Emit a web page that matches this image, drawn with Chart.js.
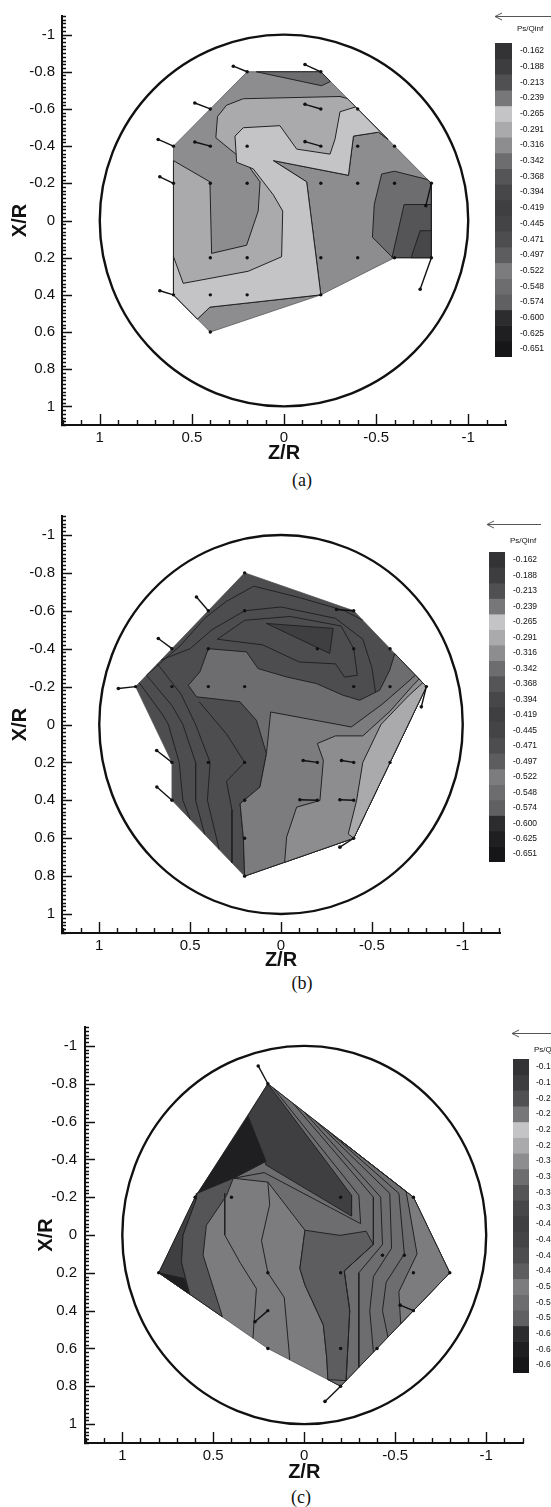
<!DOCTYPE html>
<html>
<head>
<meta charset="utf-8">
<script src="https://cdn.jsdelivr.net/npm/chart.js@4.4.1/dist/chart.umd.min.js"></script>
<style>
  html, body { margin: 0; padding: 0; background: #fff; }
  body { width: 551px; height: 1507px; overflow: hidden; position: relative; }
  canvas { position: absolute; }
  .cap { position: absolute; font-family: "Liberation Serif", "Times New Roman", serif; font-size: 18px; color: #111; transform: translate(-50%, -50%); }
  .ps { position: absolute; font-family: "Liberation Sans Narrow", "Liberation Sans", Arial, sans-serif; font-size: 8px; color: #111; white-space: nowrap; }
  svg.arrow { position: absolute; overflow: visible; }
</style>
</head>
<body>
<canvas id="plotA" width="551" height="465" style="left:0;top:0"></canvas>
<canvas id="plotB" width="551" height="472" style="left:0;top:500px"></canvas>
<canvas id="plotC" width="551" height="474" style="left:0;top:1010px"></canvas>
<canvas id="barA" width="56" height="340" style="left:495px;top:30px"></canvas>
<canvas id="barB" width="62" height="336" style="left:489px;top:539px"></canvas>
<canvas id="barC" width="38" height="338" style="left:513px;top:1047px"></canvas>

<div class="ps" style="left:517px;top:24px">Ps/Qinf</div>
<div class="ps" style="left:510px;top:536px">Ps/Qinf</div>
<div class="ps" style="left:534px;top:1045px">Ps/Qinf</div>

<svg class="arrow" style="left:494px;top:12px" width="60" height="9"><line x1="1" y1="4.5" x2="60" y2="4.5" stroke="#555" stroke-width="1"/><polyline points="8,1 1,4.5 8,8" fill="none" stroke="#555" stroke-width="1"/></svg>
<svg class="arrow" style="left:486px;top:520px" width="56" height="9"><line x1="1" y1="4.5" x2="55" y2="4.5" stroke="#555" stroke-width="1"/><polyline points="8,1 1,4.5 8,8" fill="none" stroke="#555" stroke-width="1"/></svg>
<svg class="arrow" style="left:511px;top:1029px" width="45" height="9"><line x1="1" y1="4.5" x2="45" y2="4.5" stroke="#555" stroke-width="1"/><polyline points="8,1 1,4.5 8,8" fill="none" stroke="#555" stroke-width="1"/></svg>

<div class="cap" style="left:302px;top:480px">(a)</div>
<div class="cap" style="left:302px;top:983px">(b)</div>
<div class="cap" style="left:301px;top:1497px">(c)</div>

<script>
// colour bar levels (Ps/Qinf)
const levels = [-0.162, -0.188, -0.213, -0.239, -0.265, -0.291, -0.316, -0.342, -0.368, -0.394,
                -0.419, -0.445, -0.471, -0.497, -0.522, -0.548, -0.574, -0.600, -0.625, -0.651];
const levelColors = ['#333335', '#3d3d40', '#505053', '#77777a', '#c4c4c6', '#aaaaac', '#8d8d90', '#6d6d70', '#555558', '#47474a',
                     '#3f3f42', '#444447', '#4d4d50', '#5d5d60', '#7c7c7f', '#6d6d70', '#606063', '#2c2c2e', '#1f1f21', '#161618'];

// axis ticks
const zTicks = [1, 0.5, 0, -0.5, -1];
const xTicks = [-1, -0.8, -0.6, -0.4, -0.2, 0, 0.2, 0.4, 0.6, 0.8, 1];
const wallRadius = 1;

// ---------- (a) ----------  points are [Z/R, X/R]
const hullA = [[0.2,-0.8],[-0.2,-0.8],[-0.8,-0.2],[-0.8,0.2],[-0.6,0.2],[-0.2,0.4],[0.4,0.6],[0.6,0.4],[0.6,-0.4]];
const hullLevelA = -0.316;
const regionsA = [
  {level: -0.291, pts: [[0.6,-0.322],[0.402,-0.208],[0.393,0.177],[0.203,0.133],[0.14,-0.051],[0.13,-0.208],[0.207,-0.313],[0.37,-0.445],[0.361,-0.559],[0.312,-0.62],[0.221,-0.655],[-0.304,-0.667],[-0.344,-0.656],[-0.563,-0.437],[-0.513,-0.475],[-0.377,-0.454],[-0.35,-0.243],[0.058,-0.322],[-0.123,-0.208],[-0.2,0.4],[0.402,0.466],[0.47,0.53],[0.6,0.4]]},
  {level: -0.265, pts: [[0.6,0.194],[0.547,0.338],[0.194,0.273],[0.013,0.195],[0.007,-0.051],[0.058,-0.138],[0.167,-0.278],[0.257,-0.313],[0.266,-0.454],[0.221,-0.499],[0.022,-0.51],[-0.069,-0.384],[-0.25,-0.357],[-0.277,-0.438],[-0.304,-0.585],[-0.389,-0.611],[-0.563,-0.437],[-0.513,-0.475],[-0.377,-0.454],[-0.35,-0.243],[0.058,-0.322],[-0.123,-0.208],[-0.2,0.4],[0.402,0.466],[0.47,0.53],[0.6,0.4]]},
  {level: -0.342, pts: [[0.15,-0.8],[-0.2,-0.8],[-0.252,-0.748],[-0.204,-0.725]]},
  {level: -0.342, pts: [[-0.53,-0.25],[-0.6,-0.265],[-0.78,-0.22],[-0.8,-0.2],[-0.8,0.2],[-0.59,0.2],[-0.48,0.09],[-0.49,-0.086]]},
  {level: -0.368, pts: [[-0.652,-0.086],[-0.8,-0.086],[-0.8,0.2],[-0.586,0.2]]},
  {level: -0.394, pts: [[-0.739,0.055],[-0.8,0.055],[-0.8,0.2],[-0.69,0.2]]}
];
const linesA = [];
const probesA = [[0.2,-0.8],[-0.2,-0.8],[0.4,-0.6],[-0.2,-0.6],[-0.4,-0.6],[0.6,-0.4],[0.4,-0.4],[0.2,-0.4],[-0.2,-0.4],[-0.4,-0.4],[-0.6,-0.4],
  [0.6,-0.2],[0.4,-0.2],[0.2,-0.2],[-0.2,-0.2],[-0.4,-0.2],[-0.6,-0.2],[-0.8,-0.2],[0.4,0.2],[0.2,0.2],[-0.2,0.2],[-0.4,0.2],[-0.6,0.2],[-0.8,0.2],
  [0.6,0.4],[0.4,0.4],[0.2,0.4],[-0.2,0.4],[0.4,0.6]];
const vectorsA = [
  [[0.2,-0.8],[0.275,-0.83]], [[-0.2,-0.8],[-0.114,-0.839]], [[0.4,-0.6],[0.484,-0.632]], [[-0.2,-0.6],[-0.114,-0.625]],
  [[0.6,-0.4],[0.683,-0.436]], [[0.4,-0.4],[0.484,-0.422]], [[-0.2,-0.4],[-0.114,-0.424]], [[0.6,-0.2],[0.674,-0.235]],
  [[0.6,0.4],[0.674,0.378]], [[-0.8,0.2],[-0.739,0.37]], [[-0.8,-0.2],[-0.77,-0.08]]
];

// ---------- (b) ----------
const hullB = [[0.2,-0.8],[-0.4,-0.6],[-0.8,-0.2],[-0.4,0.6],[0.2,0.8],[0.6,0.4],[0.6,0.2],[0.8,-0.2]];
const hullLevelB = -0.471;
const regionsB = [
  {level: -0.548, pts: [[0.51,-0.207],[0.446,-0.278],[0.4,-0.4],[0.19,-0.383],[0.126,-0.295],[-0.03,-0.251],[-0.195,-0.216],[-0.342,-0.154],[-0.433,-0.128],[-0.543,-0.181],[-0.598,-0.286],[-0.626,-0.374],[-0.8,-0.2],[-0.4,0.6],[0.2,0.8],[0.207,0.6],[0.225,0.418],[0.116,0.33],[0.08,0.154],[0.135,-0.022],[0.226,-0.12],[0.465,-0.146]]},
  {level: -0.522, pts: [[0.057,-0.066],[-0.387,0.013],[-0.561,-0.11],[-0.74,-0.26],[-0.8,-0.2],[-0.4,0.6],[0.2,0.8],[0.207,0.6],[0.225,0.418],[0.116,0.33],[0.08,0.154]]},
  {level: -0.316, pts: [[-0.02,0.727],[-0.031,0.594],[-0.086,0.436],[-0.214,0.401],[-0.233,0.189],[-0.2,0.1],[-0.3,0.06],[-0.45,0.06],[-0.6,-0.07],[-0.72,-0.2],[-0.76,-0.24],[-0.8,-0.2],[-0.4,0.6]]},
  {level: -0.291, pts: [[-0.78,-0.22],[-0.8,-0.2],[-0.4,0.6],[-0.37,0.577],[-0.416,0.401],[-0.45,0.2],[-0.55,0.0],[-0.7,-0.15]]},
  {level: -0.419, pts: [[0.08,-0.533],[-0.287,-0.507],[-0.268,-0.375]]}
];
const linesB = [
  [[0.74,-0.26],[0.55,-0.42],[0.42,-0.56],[0.3,-0.65],[0.15,-0.73],[-0.1,-0.67],[-0.35,-0.6],[-0.45,-0.55]],
  [[0.66,-0.34],[0.5,-0.4],[0.38,-0.5],[0.2,-0.6],[0.0,-0.62],[-0.3,-0.56],[-0.45,-0.45],[-0.5,-0.3],[-0.52,-0.17]],
  [[0.35,-0.45],[0.2,-0.55],[-0.05,-0.57],[-0.33,-0.52],[-0.4,-0.4],[-0.42,-0.26],[-0.35,-0.25],[-0.3,-0.32],[-0.1,-0.33],[0.1,-0.42],[0.35,-0.45]],
  [[0.78,-0.22],[0.65,-0.05],[0.62,0.0],[0.56,0.2],[0.54,0.4],[0.5,0.5]],
  [[0.74,-0.26],[0.6,-0.1],[0.54,0.0],[0.47,0.2],[0.47,0.4],[0.42,0.58]],
  [[0.68,-0.32],[0.55,-0.16],[0.47,0.0],[0.39,0.2],[0.405,0.4],[0.34,0.66]],
  [[0.45,-0.12],[0.3,0.05],[0.2,0.2],[0.3,0.3],[0.27,0.45],[0.27,0.73]]
];
const probesB = [[0.2,-0.8],[0.4,-0.6],[0.2,-0.6],[-0.4,-0.6],[0.6,-0.4],[0.4,-0.4],[-0.2,-0.4],[-0.4,-0.4],[-0.6,-0.4],
  [0.8,-0.2],[0.6,-0.2],[0.4,-0.2],[0.2,-0.2],[-0.4,-0.2],[-0.6,-0.2],[-0.8,-0.2],[0.6,0.2],[0.4,0.2],[0.2,0.2],[-0.2,0.2],[-0.4,0.2],[-0.6,0.2],
  [0.6,0.4],[0.2,0.4],[-0.2,0.4],[-0.4,0.4],[0.2,0.6],[-0.4,0.6],[0.2,0.8]];
const vectorsB = [
  [[0.4,-0.6],[0.465,-0.673]], [[0.6,-0.4],[0.675,-0.454]], [[0.8,-0.2],[0.895,-0.19]], [[0.6,0.2],[0.684,0.137]],
  [[0.6,0.4],[0.683,0.33]], [[-0.4,-0.6],[-0.305,-0.607]], [[-0.8,-0.2],[-0.772,-0.093]], [[-0.2,0.2],[-0.122,0.19]],
  [[-0.4,0.2],[-0.333,0.19]], [[-0.2,0.4],[-0.104,0.397]], [[-0.4,0.4],[-0.324,0.397]], [[-0.4,0.6],[-0.324,0.647]]
];

// ---------- (c) ----------
const hullC = [[0.2,-0.8],[-0.6,-0.2],[-0.8,0.2],[-0.2,0.8],[0.2,0.6],[0.8,0.2],[0.6,-0.2]];
const hullLevelC = -0.522;
const regionsC = [
  {level: -0.548, pts: [[0.2,-0.8],[-0.6,-0.2],[-0.8,0.2],[-0.2,0.8],[-0.13,0.765],[-0.124,0.652],[-0.105,0.476],[-0.004,0.265],[0.024,0.177],[-0.004,-0.025],[0.2,-0.28],[0.39,-0.3],[0.21,-0.39]]},
  {level: -0.497, pts: [[-0.004,-0.025],[0.024,0.177],[-0.004,0.265],[-0.105,0.476],[-0.124,0.652],[-0.13,0.765],[-0.23,0.77],[-0.25,0.4],[-0.22,0.19],[-0.38,0.05],[-0.34,-0.02],[-0.196,0.002]]},
  {level: -0.522, pts: [[-0.2,-0.5],[-0.6,-0.2],[-0.8,0.2],[-0.53,0.47],[-0.52,0.3],[-0.62,0.1],[-0.56,-0.23]]},
  {level: -0.419, pts: [[0.2,-0.8],[-0.26,-0.21],[-0.26,-0.1],[0.21,-0.37],[0.31,-0.63]]},
  {level: -0.625, pts: [[0.31,-0.63],[0.21,-0.39],[0.39,-0.3],[0.59,-0.22],[0.6,-0.2]]},
  {level: -0.419, pts: [[0.6,-0.2],[0.8,0.2],[0.63,0.313],[0.675,0.143],[0.666,0.0],[0.593,-0.19]]},
  {level: -0.368, pts: [[0.593,-0.19],[0.666,0.0],[0.675,0.143],[0.63,0.313],[0.45,0.433],[0.464,0.388],[0.556,0.107],[0.538,-0.051],[0.427,-0.209],[0.39,-0.3],[0.59,-0.22]]},
  {level: -0.625, pts: [[0.8,0.2],[0.631,0.313],[0.66,0.23]]}
];
const linesC = [
  [[0.437,-0.22],[0.437,0.0],[0.35,0.15],[0.263,0.283],[0.282,0.546]],
  [[0.2,-0.28],[0.19,-0.16],[0.235,0.03],[0.2,0.2],[0.11,0.33],[0.085,0.6],[0.08,0.66]],
  [[0.17,-0.777],[-0.3,-0.21],[-0.31,-0.06],[0.22,-0.33],[0.39,-0.3]],
  [[0.06,-0.695],[-0.38,-0.2],[-0.38,0.05],[-0.22,0.19],[-0.25,0.4],[-0.23,0.77]],
  [[0.0,-0.65],[-0.42,-0.2],[-0.43,0.05],[-0.3,0.2],[-0.3,0.4],[-0.3,0.7]],
  [[-0.06,-0.605],[-0.47,-0.22],[-0.48,0.07],[-0.38,0.22],[-0.36,0.4],[-0.38,0.62]],
  [[-0.12,-0.56],[-0.52,-0.22],[-0.55,0.1],[-0.45,0.25],[-0.43,0.4],[-0.46,0.54]]
];
const probesC = [[0.2,-0.8],[0.6,-0.2],[0.4,-0.2],[-0.2,-0.2],[-0.6,-0.2],[0.8,0.2],[0.2,0.2],[-0.2,0.2],[-0.6,0.2],[-0.8,0.2],
  [0.2,0.4],[-0.6,0.4],[0.2,0.6],[-0.2,0.6],[-0.4,0.6],[-0.2,0.8],[-0.43,0.107],[-0.55,0.107]];
const vectorsC = [
  [[0.2,-0.8],[0.253,-0.894]], [[-0.2,0.8],[-0.114,0.88]], [[0.2,0.4],[0.271,0.459]], [[-0.6,0.4],[-0.527,0.371]]
];

// ---------- drawing ----------
function toXY(pts) { return pts.map(p => ({x: p[0], y: p[1]})); }
function ring(pts) { return toXY(pts.concat([pts[0]])); }
function levelColor(lv) { return levelColors[levels.indexOf(lv)]; }

const wallPlugin = {
  id: 'wall',
  afterDatasetsDraw(chart) {
    const {ctx, scales: {x, y}} = chart;
    const cx = x.getPixelForValue(0), cy = y.getPixelForValue(0);
    const rx = Math.abs(x.getPixelForValue(wallRadius) - cx);
    const ry = Math.abs(y.getPixelForValue(wallRadius) - cy);
    ctx.save();
    ctx.beginPath();
    ctx.ellipse(cx, cy, rx, ry, 0, 0, Math.PI * 2);
    ctx.lineWidth = 2.4;
    ctx.strokeStyle = '#111';
    ctx.stroke();
    ctx.restore();
  }
};

// ticks point into the plot, minor ones shorter
const tickPlugin = {
  id: 'inTicks',
  afterDraw(chart) {
    const {ctx, scales: {x, y}, chartArea: a} = chart;
    ctx.save();
    ctx.strokeStyle = '#111';
    ctx.lineWidth = 1.4;
    ctx.beginPath();
    for (let i = -12; i <= 12; i++) {
      const px = Math.round(x.getPixelForValue(i / 10)) + 0.5;
      ctx.moveTo(px, a.bottom);
      ctx.lineTo(px, a.bottom - (i % 5 === 0 ? 11 : 5));
    }
    for (let i = -55; i <= 55; i++) {
      const py = Math.round(y.getPixelForValue(i / 50)) + 0.5;
      ctx.moveTo(a.left - 1, py);
      ctx.lineTo(a.left + (i % 10 === 0 ? 10 : 4), py);
    }
    ctx.stroke();
    ctx.restore();
  }
};

function makePanel(id, hull, hullLevel, regions, lines, probes, vectors, box) {
  const ds = [];
  ds.push({data: ring(hull), backgroundColor: levelColor(hullLevel), borderColor: '#555', borderWidth: 0.8, fill: 'shape'});
  regions.forEach(r => ds.push({data: ring(r.pts), backgroundColor: levelColor(r.level), borderColor: '#222', borderWidth: 1, fill: 'shape'}));
  lines.forEach(l => ds.push({data: toXY(l), borderColor: '#222', borderWidth: 1, fill: false}));
  vectors.forEach(v => ds.push({data: toXY(v), borderColor: '#111', borderWidth: 1.4, fill: false,
    pointRadius: [0, 1.8], pointBackgroundColor: '#111', pointBorderWidth: 0}));
  ds.push({data: toXY(probes), showLine: false, pointRadius: 1.7, pointBackgroundColor: '#111', pointBorderWidth: 0});
  ds.forEach((d, i) => { d.order = ds.length - i; });

  new Chart(document.getElementById(id), {
    type: 'line',
    data: {datasets: ds},
    options: {
      responsive: false,
      animation: false,
      devicePixelRatio: 1,
      layout: {padding: {left: 0, right: box.padR, top: box.padT, bottom: 0}},
      plugins: {legend: {display: false}, tooltip: {enabled: false}},
      elements: {point: {radius: 0, hitRadius: 0}, line: {tension: 0}},
      scales: {
        x: {
          type: 'linear', position: 'bottom', reverse: true, min: -1.205, max: 1.205,
          afterBuildTicks: s => { s.ticks = zTicks.map(v => ({value: v})); },
          afterFit: s => { s.height = box.xH; },
          grid: {display: false, drawTicks: false},
          border: {display: true, color: '#111', width: 2},
          ticks: {color: '#111', padding: 4, maxRotation: 0, autoSkip: false,
                  font: {family: 'Liberation Sans', size: 15}, callback: v => String(v)},
          title: {display: true, text: 'Z/R', color: '#111', padding: {top: 0, bottom: 0},
                  font: {family: 'Liberation Sans', size: 20, weight: 'bold'}}
        },
        y: {
          type: 'linear', position: 'left', reverse: true, min: -1.1, max: 1.1,
          afterBuildTicks: s => { s.ticks = xTicks.map(v => ({value: v})); },
          afterFit: s => { s.width = box.yW; },
          grid: {display: false, drawTicks: false},
          border: {display: true, color: '#111', width: 2},
          ticks: {color: '#111', padding: box.yPad, autoSkip: false,
                  font: {family: 'Liberation Sans', size: 15}, callback: v => String(v)},
          title: {display: true, text: 'X/R', color: '#111', padding: {top: box.titlePad, bottom: 0},
                  font: {family: 'Liberation Sans', size: 20, weight: 'bold'}}
        }
      }
    },
    plugins: [wallPlugin, tickPlugin]
  });
}

function makeColorbar(id, box) {
  new Chart(document.getElementById(id), {
    type: 'bar',
    data: {
      labels: [''],
      datasets: levels.map((lv, i) => ({data: [1], backgroundColor: levelColors[i], borderWidth: 0,
        barPercentage: 1, categoryPercentage: 1}))
    },
    options: {
      responsive: false,
      animation: false,
      devicePixelRatio: 1,
      layout: {padding: {left: 0, right: 0, top: box.padT, bottom: box.padB}},
      plugins: {legend: {display: false}, tooltip: {enabled: false}},
      scales: {
        x: {display: false, stacked: true},
        y: {
          stacked: true, position: 'right', reverse: true, min: 0, max: levels.length,
          afterBuildTicks: s => { s.ticks = levels.map((lv, i) => ({value: i + 0.5})); },
          afterFit: s => { s.width = box.labW; },
          grid: {display: false, drawTicks: false},
          border: {display: false},
          ticks: {padding: box.labPad, color: '#111', autoSkip: false,
                  font: {family: '"Liberation Sans Narrow", "Liberation Sans", Arial', size: 8.5},
                  callback: (v, i) => levels[i].toFixed(3)}
        }
      }
    }
  });
}

makePanel('plotA', hullA, hullLevelA, regionsA, linesA, probesA, vectorsA, {padR: 45, padT: 7, xH: 40, yW: 62, yPad: 7, titlePad: 8});
makePanel('plotB', hullB, hullLevelB, regionsB, linesB, probesB, vectorsB, {padR: 51, padT: 15, xH: 39, yW: 62, yPad: 7, titlePad: 8});
makePanel('plotC', hullC, hullLevelC, regionsC, linesC, probesC, vectorsC, {padR: 27.5, padT: 13, xH: 41, yW: 85, yPad: 8, titlePad: 34});

makeColorbar('barA', {padT: 6, padB: 7, labW: 39, labPad: 8});
makeColorbar('barB', {padT: 6, padB: 6, labW: 46, labPad: 8});
makeColorbar('barC', {padT: 6, padB: 6, labW: 22, labPad: 7});
</script>
</body>
</html>
